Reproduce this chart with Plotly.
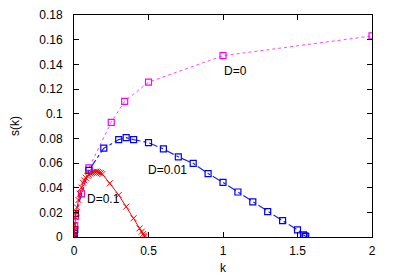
import plotly.graph_objects as go

# D=0 series
k_d0 = [0.0, 0.002, 0.005, 0.01, 0.05, 0.1, 0.25, 0.34, 0.5, 1.0, 2.0]
s_d0 = [0.0, 0.005, 0.009, 0.017, 0.035, 0.056, 0.093, 0.110, 0.1255, 0.147, 0.163]

# D=0.01 series
k_d001 = [0.0, 0.002, 0.005, 0.01, 0.1, 0.2, 0.3, 0.35, 0.4, 0.5, 0.6, 0.7, 0.8, 0.9,
          1.0, 1.1, 1.2, 1.3, 1.4, 1.5, 1.54, 1.55, 1.555]
s_d001 = [0.0, 0.003, 0.006, 0.019, 0.054, 0.072, 0.079, 0.0805, 0.079, 0.0765, 0.0714,
          0.065, 0.0597, 0.0514, 0.0443, 0.0365, 0.0284, 0.0205, 0.0132, 0.0057, 0.0018,
          0.001, 0.0004]

# D=0.1 series
k_d01 = [0.0, 0.002, 0.005, 0.01, 0.015, 0.02, 0.03, 0.04, 0.05, 0.06, 0.07, 0.08, 0.09,
         0.1, 0.11, 0.12, 0.13, 0.14, 0.15, 0.16, 0.17, 0.18, 0.19, 0.24, 0.3, 0.35, 0.4,
         0.44, 0.455, 0.465, 0.47, 0.475]
s_d01 = [0.0, 0.005, 0.010, 0.016, 0.020, 0.024, 0.030, 0.035, 0.040, 0.044, 0.046, 0.048,
         0.0495, 0.0505, 0.0515, 0.052, 0.0525, 0.053, 0.053, 0.0527, 0.0522, 0.0518, 0.051,
         0.0435, 0.034, 0.0246, 0.0152, 0.007, 0.0043, 0.0025, 0.0012, 0.0003]

x_ticks = [0, 0.5, 1, 1.5, 2]
x_tick_labels = ["0", "0.5", "1", "1.5", "2"]
y_ticks = [0, 0.02, 0.04, 0.06, 0.08, 0.1, 0.12, 0.14, 0.16, 0.18]
y_tick_labels = ["0", "0.02", "0.04", "0.06", "0.08", "0.1", "0.12", "0.14", "0.16", "0.18"]

labels = ["D=0", "D=0.01", "D=0.1"]
label_k = [0.99, 0.48, 0.075]
label_s = [0.135, 0.054, 0.031]

FONT = "Liberation Sans, Arial"

fig = go.Figure()
fig.add_trace(go.Scatter(
    x=k_d0, y=s_d0, mode="lines+markers",
    line=dict(color="#ff44ff", width=1, dash="dot"),
    marker=dict(symbol="square-open", size=6, color="#ff00ff", line=dict(width=1.2)),
))
fig.add_trace(go.Scatter(
    x=k_d001, y=s_d001, mode="lines+markers",
    line=dict(color="#2222ff", width=1.2, dash="dashdot"),
    marker=dict(symbol="square-open", size=6, color="#0000ff", line=dict(width=1.2)),
))
fig.add_trace(go.Scatter(
    x=k_d01, y=s_d01, mode="lines+markers",
    line=dict(color="#ff0000", width=1),
    marker=dict(symbol="x-thin-open", size=6, color="#ff0000", line=dict(width=1, color="#ff0000")),
))

for t, xx, yy in zip(labels, label_k, label_s):
    fig.add_annotation(x=xx, y=yy, text=t, showarrow=False, xanchor="left", yanchor="middle",
                       font=dict(family=FONT, size=12, color="#000000"))

axis_common = dict(showgrid=False, zeroline=False, showline=True, linecolor="#000000",
                   linewidth=1, mirror="allticks", ticks="inside", ticklen=5,
                   tickcolor="#000000", automargin=False,
                   tickfont=dict(family=FONT, size=12, color="#000000"))

fig.update_xaxes(range=[0, 2], tickvals=x_ticks, ticktext=x_tick_labels,
                 ticklabelstandoff=3,
                 title=dict(text="k", standoff=8,
                            font=dict(family=FONT, size=12, color="#000000")),
                 **axis_common)
fig.update_yaxes(range=[0, 0.18], tickvals=y_ticks, ticktext=y_tick_labels,
                 ticklabelstandoff=8,
                 title=dict(text="s(k)", standoff=20,
                            font=dict(family=FONT, size=12, color="#000000")),
                 **axis_common)

# The page body has an 8px default margin, so the figure is shifted by 8px.
fig.update_layout(
    width=385, height=267, showlegend=False,
    margin=dict(l=66, r=21, t=7, b=38),
    paper_bgcolor="white", plot_bgcolor="white",
)

fig.write_html("out.html")
